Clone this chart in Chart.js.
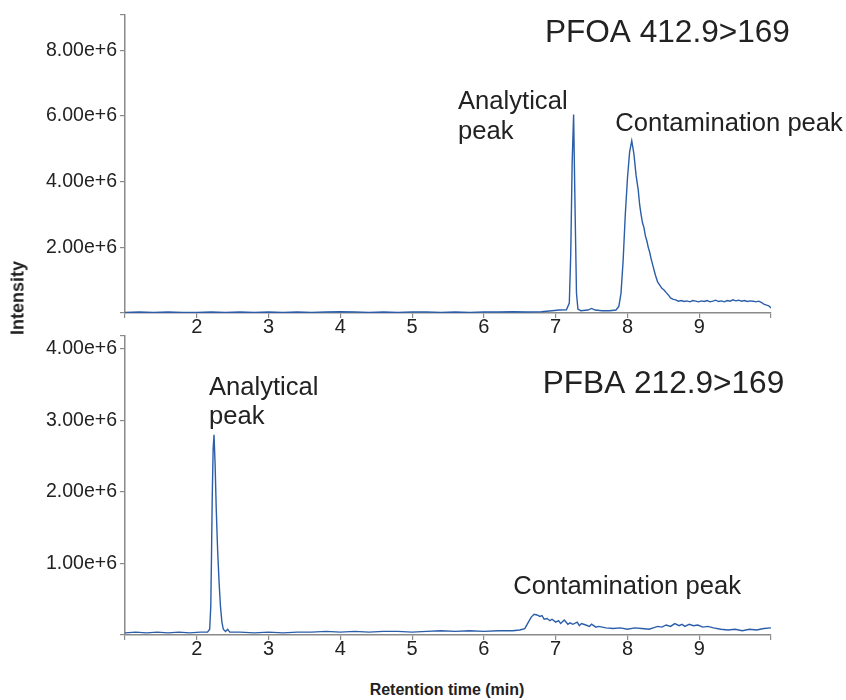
<!DOCTYPE html>
<html>
<head>
<meta charset="utf-8">
<script src="https://cdn.jsdelivr.net/npm/chart.js@4.4.1/dist/chart.umd.min.js"></script>
<style>
body{margin:0;background:#fff;width:846px;height:700px;position:relative;overflow:hidden;font-family:"Liberation Sans",Arial,sans-serif;}
canvas{position:absolute;left:0;}
#topChart{top:0;}
#bottomChart{top:320px;}
.axisTitle{position:absolute;font-weight:bold;color:#222;white-space:nowrap;}
#yTitle{left:18px;top:298px;font-size:18px;transform:translate(-50%,-50%) rotate(-90deg);}
#xTitle{left:447px;top:690px;font-size:16px;transform:translate(-50%,-50%);}
</style>
</head>
<body>
<canvas id="topChart" width="846" height="345"></canvas>
<canvas id="bottomChart" width="846" height="355"></canvas>
<div id="yTitle" class="axisTitle">Intensity</div>
<div id="xTitle" class="axisTitle">Retention time (min)</div>
<script>
// ================= DATA (intensity in millions of counts) =================
let xTickValues = [1,2,3,4,5,6,7,8,9,10];

let pfoaTime = [
1.0,1.2,1.4,1.6,1.8,2.0,2.2,2.4,2.6,2.8,
3.0,3.2,3.4,3.6,3.8,4.0,4.2,4.4,4.6,4.8,
5.0,5.2,5.4,5.6,5.8,6.0,6.2,6.4,6.6,6.8,
6.95,7.05,7.15,7.19,7.21,7.23,7.25,7.27,7.29,7.31,
7.35,7.45,7.5,7.55,7.65,7.75,7.84,7.88,7.91,7.94,
7.97,8.0,8.03,8.06,8.09,8.12,8.15,8.17,8.19,8.21,
8.23,8.25,8.27,8.29,8.31,8.33,8.36,8.39,8.42,8.45,
8.48,8.51,8.54,8.57,8.6,8.63,8.67,8.71,8.75,8.79,
8.83,8.87,8.91,8.95,8.99,9.03,9.07,9.11,9.15,9.19,
9.23,9.27,9.31,9.35,9.39,9.43,9.47,9.51,9.55,9.59,
9.63,9.67,9.71,9.75,9.79,9.83,9.87,9.9,9.94,9.97,10.0
];
let pfoaIntensity = [
0.02,0.03,0.02,0.03,0.02,0.02,0.03,0.02,0.03,0.02,
0.03,0.02,0.03,0.02,0.03,0.04,0.03,0.02,0.03,0.02,
0.03,0.03,0.02,0.03,0.02,0.03,0.03,0.04,0.03,0.04,
0.07,0.09,0.10,0.30,1.80,4.60,6.05,3.20,0.60,0.12,
0.07,0.09,0.14,0.09,0.07,0.07,0.09,0.20,0.60,1.60,
3.00,4.10,4.90,5.25,4.85,4.20,3.75,3.30,3.00,2.75,
2.60,2.35,2.20,2.00,1.85,1.65,1.40,1.15,0.95,0.85,
0.75,0.70,0.62,0.55,0.46,0.42,0.40,0.36,0.38,0.35,
0.37,0.34,0.38,0.36,0.34,0.37,0.35,0.38,0.34,0.36,
0.39,0.35,0.37,0.34,0.38,0.36,0.40,0.37,0.39,0.36,
0.38,0.35,0.37,0.36,0.34,0.36,0.32,0.27,0.24,0.22,0.15
];

let pfbaTime = [
1.0,1.15,1.3,1.45,1.6,1.75,1.9,2.05,2.15,2.18,
2.195,2.205,2.215,2.228,2.24,2.255,2.27,2.29,2.31,2.33,
2.35,2.37,2.4,2.43,2.46,2.6,2.8,3.0,3.2,3.4,
3.6,3.8,4.0,4.2,4.4,4.6,4.8,5.0,5.2,5.4,
5.6,5.8,6.0,6.2,6.4,6.5,6.57,6.62,6.66,6.7,
6.74,6.78,6.81,6.84,6.88,6.92,6.95,7.0,7.04,7.07,
7.12,7.17,7.2,7.24,7.3,7.33,7.36,7.42,7.47,7.5,
7.56,7.6,7.7,7.8,7.9,8.0,8.1,8.2,8.3,8.36,
8.42,8.48,8.54,8.6,8.66,8.72,8.76,8.8,8.86,8.92,
8.98,9.05,9.12,9.2,9.3,9.4,9.5,9.6,9.7,9.8,
9.9,10.0
];
let pfbaIntensity = [
0.03,0.04,0.03,0.04,0.03,0.04,0.03,0.04,0.04,0.08,
0.40,1.10,1.90,2.60,2.80,2.40,1.80,1.20,0.75,0.40,
0.18,0.08,0.05,0.08,0.04,0.04,0.03,0.04,0.03,0.04,
0.04,0.05,0.04,0.05,0.04,0.05,0.05,0.04,0.05,0.06,
0.05,0.06,0.05,0.06,0.06,0.07,0.09,0.18,0.25,0.29,
0.28,0.26,0.27,0.22,0.23,0.20,0.22,0.18,0.20,0.16,
0.21,0.15,0.17,0.15,0.18,0.13,0.16,0.14,0.12,0.15,
0.11,0.12,0.10,0.09,0.10,0.08,0.10,0.09,0.08,0.10,
0.12,0.11,0.14,0.12,0.16,0.13,0.15,0.12,0.15,0.13,
0.14,0.11,0.12,0.10,0.08,0.07,0.08,0.06,0.08,0.07,
0.09,0.10
];

let pfoaYTicks = [0,2,4,6,8,9.08];
let pfbaYTicks = [0,1,2,3,4,4.18];

let pfoaLabels = [
{lines:["PFOA 412.9>169"], x:6.85, y:8.53, size:31.6},
{lines:["Analytical","peak"], x:5.64, y:6.42, size:25.6},
{lines:["Contamination peak"], x:7.83, y:5.77, size:25.6}
];
let pfbaLabels = [
{lines:["Analytical","peak"], x:2.17, y:3.46, size:25.6},
{lines:["PFBA 212.9>169"], x:6.82, y:3.51, size:31.6},
{lines:["Contamination peak"], x:6.41, y:0.67, size:25.6}
];


/* ================= HELPERS ================= */
const FONT = "'Liberation Sans', Arial, sans-serif";
const LINE_COLOR = "#2b5ea9";
const AXIS_COLOR = "#8a8a8a";

function labelPlugin(labels){
return {
id:"peakLabels",
afterDraw(chart){
let ctx = chart.ctx;
let xs = chart.scales.x, ys = chart.scales.y;
ctx.save();
ctx.fillStyle = "#222";
ctx.textAlign = "left";
ctx.textBaseline = "middle";
labels.forEach(l=>{
ctx.font = l.size + "px " + FONT;
let px = xs.getPixelForValue(l.x);
let py = ys.getPixelForValue(l.y);
l.lines.forEach((t,i)=>{
ctx.fillText(t, px, py + i*29.5);
});
});
ctx.restore();
}
};
}

function makeChart(id, times, values, yTicks, labels, padTop, xAxisHeight){
let yMax = yTicks[yTicks.length-1];
return new Chart(document.getElementById(id), {
type:"line",
data:{
datasets:[{
data: times.map((t,i)=>({x:t, y:values[i]})),
borderColor: LINE_COLOR,
borderWidth: 1.4,
pointRadius: 0,
tension: 0,
fill: false
}]
},
options:{
responsive:false,
animation:false,
layout:{padding:{top:padTop, right:75, left:0, bottom:0}},
plugins:{legend:{display:false}, tooltip:{enabled:false}},
scales:{
x:{
type:"linear",
min:1, max:10,
afterBuildTicks: s=>{ s.ticks = xTickValues.map(v=>({value:v})); },
afterFit: s=>{ s.height = xAxisHeight; },
border:{color:AXIS_COLOR, width:1.5},
grid:{drawOnChartArea:false, drawTicks:true, tickLength:5, color:AXIS_COLOR, lineWidth:1.2},
ticks:{
color:"#222",
padding:-3,
maxRotation:0,
font:{family:FONT, size:20},
callback: v => (v===1 || v===10) ? "" : String(v)
}
},
y:{
min:0, max:yMax,
afterBuildTicks: s=>{ s.ticks = yTicks.map(v=>({value:v})); },
afterFit: s=>{ s.width = 125; },
border:{color:AXIS_COLOR, width:1.5},
grid:{drawOnChartArea:false, drawTicks:true, tickLength:5, color:AXIS_COLOR, lineWidth:1.2},
ticks:{
color:"#222",
padding:3,
font:{family:FONT, size:19.5},
callback: v => (v===0 || v===yMax) ? "" : (v*1e6).toExponential(2)
}
}
}
},
plugins:[labelPlugin(labels)]
});
}


/* ================= DRAW ================= */
makeChart("topChart", pfoaTime, pfoaIntensity, pfoaYTicks, pfoaLabels, 15, 32);
makeChart("bottomChart", pfbaTime, pfbaIntensity, pfbaYTicks, pfbaLabels, 16, 40);
</script>
</body>
</html>
